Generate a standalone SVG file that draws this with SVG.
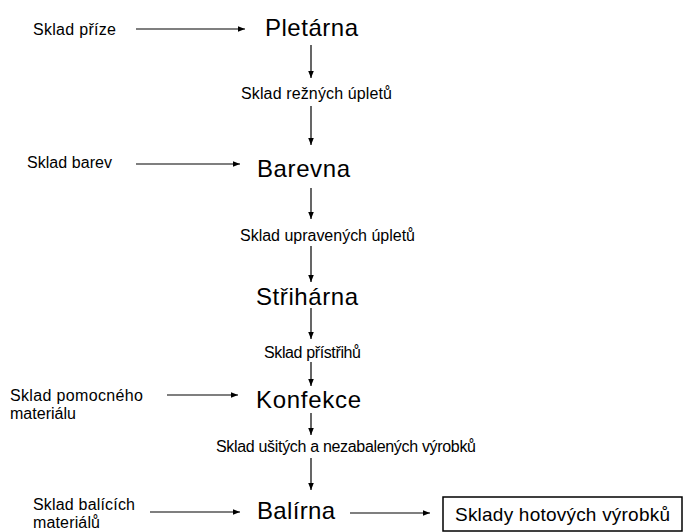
<svg xmlns="http://www.w3.org/2000/svg" width="685" height="532" viewBox="0 0 685 532">
<style>
text{font-family:"Liberation Sans",Arial,sans-serif;fill:#000}
.big{font-size:24px}
.sm{font-size:16px}
.box{font-size:19px}
line{stroke:#000;stroke-width:1.2}
</style>
<defs>
<marker id="ah" viewBox="0 0 10 10" refX="10" refY="5" markerWidth="7" markerHeight="7" markerUnits="userSpaceOnUse" orient="auto">
<path d="M0,1 L10,5 L0,9 z" fill="#000"/>
</marker>
</defs>
<rect width="685" height="532" fill="#fff"/>
<g id="connectors">
<line x1="136" y1="29" x2="245" y2="29" marker-end="url(#ah)"/>
<line x1="311" y1="45" x2="311" y2="78" marker-end="url(#ah)"/>
<line x1="311" y1="106" x2="311" y2="145" marker-end="url(#ah)"/>
<line x1="136" y1="164" x2="240" y2="164" marker-end="url(#ah)"/>
<line x1="311" y1="188" x2="311" y2="219" marker-end="url(#ah)"/>
<line x1="311" y1="246" x2="311" y2="282" marker-end="url(#ah)"/>
<line x1="311" y1="308" x2="311" y2="339" marker-end="url(#ah)"/>
<line x1="311" y1="362" x2="311" y2="386" marker-end="url(#ah)"/>
<line x1="167" y1="395" x2="238" y2="395" marker-end="url(#ah)"/>
<line x1="311" y1="413" x2="311" y2="435" marker-end="url(#ah)"/>
<line x1="311" y1="458" x2="311" y2="490" marker-end="url(#ah)"/>
<line x1="150" y1="512" x2="240" y2="512" marker-end="url(#ah)"/>
<line x1="350" y1="513" x2="430" y2="513" marker-end="url(#ah)"/>
</g>
<g id="sklad-prize"><text class="sm" x="33" y="35" textLength="83">Sklad příze</text></g>
<g id="pletarna"><text class="big" x="265" y="36" textLength="93">Pletárna</text></g>
<g id="sklad-rezne"><text class="sm" x="241" y="99" textLength="151">Sklad režných úpletů</text></g>
<g id="sklad-barev"><text class="sm" x="27" y="168" textLength="85">Sklad barev</text></g>
<g id="barevna"><text class="big" x="257" y="177" textLength="93">Barevna</text></g>
<g id="sklad-upravene"><text class="sm" x="240" y="241" textLength="175">Sklad upravených úpletů</text></g>
<g id="strihárna"><text class="big" x="256" y="305" textLength="102">Střihárna</text></g>
<g id="sklad-pristrihu"><text class="sm" x="264" y="358" textLength="97">Sklad přístřihů</text></g>
<g id="sklad-pomocneho"><text class="sm" x="10" y="401" textLength="133">Sklad pomocného</text><text class="sm" x="10" y="419" textLength="66">materiálu</text></g>
<g id="konfekce"><text class="big" x="256" y="408" textLength="105">Konfekce</text></g>
<g id="sklad-usitych"><text class="sm" x="216" y="452" textLength="260">Sklad ušitých a nezabalených výrobků</text></g>
<g id="sklad-balicich"><text class="sm" x="33" y="510" textLength="102">Sklad balících</text><text class="sm" x="33" y="528" textLength="67">materiálů</text></g>
<g id="balirna"><text class="big" x="257" y="519" textLength="78">Balírna</text></g>
<g id="sklady-hotovych"><rect x="443" y="497" width="239" height="34" fill="#fff" stroke="#000" stroke-width="1.5"/><text class="box" x="455" y="521" textLength="215">Sklady hotových výrobků</text></g>
</svg>
